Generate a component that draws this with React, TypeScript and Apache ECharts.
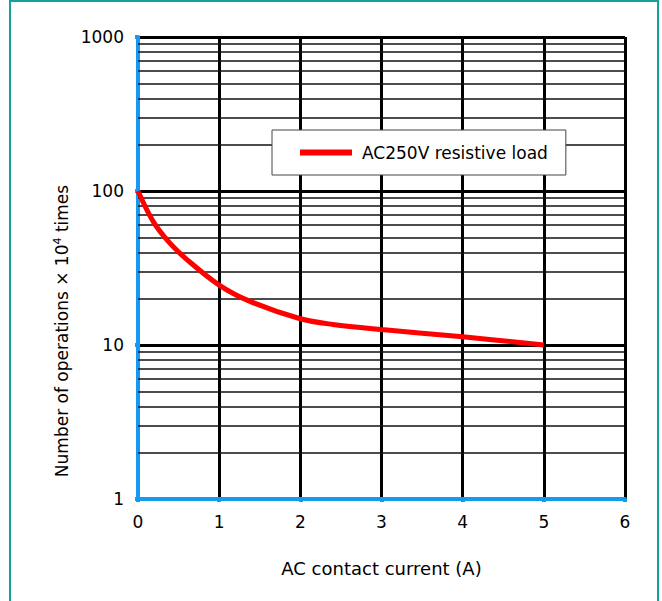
import React, { useEffect, useRef } from "react";
import * as echarts from "echarts";

const seriesName = "AC250V resistive load";
const currentA = [0, 0.19, 0.39, 0.6, 1.0, 1.38, 2.0, 2.4, 3.0, 4.0, 5.0];
const operations = [100, 63, 46, 36, 24.5, 19.2, 14.8, 13.6, 12.6, 11.3, 10];
const minorGridValues = [2, 3, 4, 5, 6, 7, 8, 9, 20, 30, 40, 50, 60, 70, 80, 90, 200, 300, 400, 500, 600, 700, 800, 900];
const xTitle = "AC contact current (A)";

const FONT = "DejaVu Sans";
const BLUE = "#1699f2";

export default function App() {
  const ref = useRef<HTMLDivElement>(null);
  useEffect(() => {
    if (!ref.current) return;
    const chart = echarts.init(ref.current, null, { renderer: "svg" });
    chart.setOption({
      animation: false,
      backgroundColor: "#fff",
      grid: { left: 138, right: 37, top: 37, bottom: 102, containLabel: false },
      legend: {
        data: [seriesName],
        left: 272,
        top: 130,
        backgroundColor: "#fff",
        borderColor: "#444",
        borderWidth: 1,
        borderRadius: 0,
        padding: [14, 18, 14, 28],
        icon: "rect",
        itemWidth: 52,
        itemHeight: 6,
        textStyle: { fontSize: 17, fontFamily: FONT, color: "#000", padding: [0, 0, 0, 5] },
        z: 10,
      },
      xAxis: {
        type: "value",
        min: 0,
        max: 6,
        interval: 1,
        name: xTitle,
        nameLocation: "middle",
        nameGap: 60,
        nameTextStyle: { fontSize: 18, fontFamily: FONT, color: "#000" },
        axisLine: { show: true, lineStyle: { color: BLUE, width: 4 } },
        axisTick: { show: true, length: 3, lineStyle: { color: BLUE, width: 4 } },
        axisLabel: { fontSize: 17, fontFamily: FONT, color: "#000", margin: 14 },
        splitLine: { show: true, showMinLine: false, lineStyle: { color: "#000", width: 3 } },
      },
      yAxis: {
        type: "log",
        logBase: 10,
        min: 1,
        max: 1000,
        axisLine: { show: true, lineStyle: { color: BLUE, width: 4 } },
        axisTick: { show: true, length: 3, lineStyle: { color: BLUE, width: 4 } },
        axisLabel: {
          fontSize: 17,
          fontFamily: FONT,
          color: "#000",
          margin: 14,
          formatter: (v: number) => String(Math.round(v)),
        },
        splitLine: { show: true, showMinLine: false, lineStyle: { color: "#000", width: 3 } },
      },
      graphic: [
        {
          type: "rect",
          shape: { x: 10, y: 1, width: 648, height: 640 },
          style: { fill: "none", stroke: "#15a09a", lineWidth: 2 },
          silent: true,
        },
        {
          type: "text",
          x: 62,
          y: 331,
          rotation: Math.PI / 2,
          style: {
            text: "Number of operations × 10{sup|4} times",
            fontSize: 17,
            fontFamily: FONT,
            fill: "#000",
            align: "center",
            verticalAlign: "middle",
            rich: {
              sup: { fontSize: 11, fontFamily: FONT, fill: "#000", padding: [0, 0, 9, 0] },
            },
          },
        },
      ],
      series: [
        {
          type: "line",
          data: [],
          silent: true,
          markLine: {
            silent: true,
            symbol: "none",
            label: { show: false },
            lineStyle: { color: "#111", width: 1.5, type: "solid" },
            data: minorGridValues.map((v) => ({ yAxis: v })),
          },
          z: 1,
        },
        {
          name: seriesName,
          type: "line",
          data: currentA.map((x, i) => [x, operations[i]]),
          smooth: 0.35,
          showSymbol: false,
          lineStyle: { color: "#ff0000", width: 5 },
          itemStyle: { color: "#ff0000" },
          z: 5,
        },
      ],
    });
    return () => chart.dispose();
  }, []);
  return <div ref={ref} style={{ position: "fixed", left: 0, top: 0, width: 662, height: 601 }} />;
}
